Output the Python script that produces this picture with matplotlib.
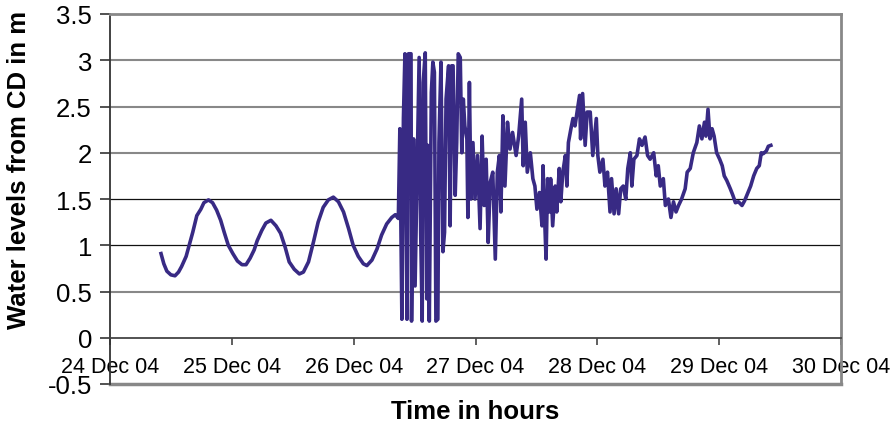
import matplotlib
matplotlib.use('Agg')
import matplotlib.pyplot as plt
import matplotlib.dates as mdates
import numpy as np

# hours after 24 Dec 2004 00:00, water level from CD (m)
hours_before = [10.05, 10.6, 11.2, 12.0, 12.8, 13.5, 14.1, 15.0, 15.6, 16.3, 17.1, 17.9,
                18.5, 19.4, 20.2, 21.0, 21.8, 22.5, 23.3, 24.2, 25.1, 26.0, 26.8, 27.6,
                28.4, 29.0, 29.9, 30.7, 31.7, 32.7, 33.6, 34.5, 35.3, 36.3, 37.3, 38.1,
                39.1, 40.1, 41.0, 42.0, 43.0, 44.0, 45.0, 46.0, 47.0, 47.9, 48.9, 49.9,
                50.6, 51.6, 52.6, 53.5, 54.5, 55.5, 56.2, 56.8]
level_before = [0.91, 0.80, 0.72, 0.68, 0.67, 0.71, 0.77, 0.88, 1.00, 1.14, 1.32, 1.39,
                1.46, 1.49, 1.46, 1.38, 1.27, 1.14, 1.00, 0.91, 0.83, 0.79, 0.79, 0.86,
                0.95, 1.05, 1.16, 1.24, 1.27, 1.21, 1.13, 0.98, 0.82, 0.74, 0.69, 0.71,
                0.82, 1.04, 1.25, 1.41, 1.49, 1.52, 1.47, 1.36, 1.18, 1.00, 0.88, 0.80,
                0.78, 0.84, 0.96, 1.11, 1.23, 1.30, 1.33, 1.29]

hours_tsunami = [57.1, 57.5, 57.8, 58.1, 58.5, 58.8, 59.3, 59.4, 59.8, 60.1, 60.9, 61.2,
                 61.5, 61.7, 62.1, 62.4, 62.6, 62.9, 63.3, 63.6, 63.9, 64.2, 64.6, 64.8,
                 65.2, 65.6, 65.9, 66.2, 66.7, 67.0, 67.3, 67.6, 68.0, 68.3, 68.6, 69.0,
                 69.3, 69.6, 69.9, 70.3, 70.5, 70.8, 71.1, 71.5, 71.9, 72.4, 72.9, 73.3,
                 73.7, 74.1, 74.5, 74.9, 75.4, 75.9, 76.3, 76.7, 77.0, 77.4, 77.8, 78.3,
                 78.8, 79.3, 80.0, 80.5, 81.1, 81.4, 81.8, 82.2, 82.8, 83.3, 83.7, 84.1,
                 84.6, 85.1, 85.3, 85.6, 85.9, 86.2, 86.6, 86.8, 87.2, 87.7, 88.0, 88.5,
                 88.8, 89.2, 89.7, 90.0, 90.3, 90.8, 91.2, 91.6, 92.1, 92.5, 92.7, 93.1,
                 93.6, 94.0, 94.6, 95.1, 95.8, 96.1]
level_tsunami = [2.26, 0.20, 2.37, 3.07, 0.20, 3.07, 3.07, 0.18, 2.15, 0.56, 3.03, 1.14,
                 0.18, 2.76, 3.08, 0.42, 2.08, 0.18, 2.65, 2.98, 2.87, 0.18, 0.20, 2.11,
                 2.98, 0.93, 1.14, 2.58, 2.94, 1.21, 2.94, 2.94, 1.54, 2.11, 3.07, 3.03,
                 2.00, 2.58, 2.29, 2.15, 1.30, 2.76, 1.50, 2.11, 1.50, 1.97, 1.18, 2.18,
                 1.43, 1.93, 1.03, 1.68, 1.79, 0.85, 1.79, 1.97, 1.36, 2.40, 1.64, 2.33,
                 2.04, 2.22, 1.97, 2.18, 2.58, 1.86, 2.33, 1.79, 2.00, 1.72, 1.64, 1.39,
                 1.57, 1.21, 1.86, 1.32, 0.85, 1.72, 1.36, 1.72, 1.21, 1.64, 1.36, 1.83,
                 1.47, 1.79, 1.97, 1.64, 2.11, 2.26, 2.37, 2.29, 2.47, 2.62, 2.15, 2.64,
                 2.08, 2.44, 2.44, 1.97, 2.37, 1.97]

hours_after = [96.5, 97.1, 97.5, 98.0, 98.5, 98.8, 99.3, 99.7, 100.2, 100.6, 101.1, 101.6,
               102.0, 102.5, 102.8, 103.2, 103.8, 104.3, 104.8, 105.4, 105.9, 106.4, 107.1,
               107.6, 108.0, 108.4, 109.0, 109.4, 110.0, 110.5, 111.0, 111.5, 112.0, 112.6,
               113.3, 113.7, 114.3, 114.9, 115.6, 116.1, 116.6, 117.1, 117.4, 117.8, 118.2,
               118.6, 119.0, 119.5, 120.1, 120.6, 121.0, 121.5, 122.2, 122.7, 123.2, 123.8,
               124.5, 125.0, 125.6, 126.2, 126.8, 127.4, 127.9, 128.3, 128.7, 129.3, 129.7,
               130.2]
level_after = [1.79, 1.93, 1.64, 1.79, 1.36, 1.72, 1.34, 1.61, 1.34, 1.61, 1.64, 1.50,
               1.83, 2.00, 1.64, 1.93, 1.97, 2.15, 2.08, 2.17, 1.97, 1.93, 2.00,
               1.75, 1.86, 1.64, 1.72, 1.43, 1.50, 1.30, 1.47, 1.36, 1.43, 1.50,
               1.61, 1.79, 1.83, 2.00, 2.11, 2.29, 2.15, 2.33, 2.18, 2.47, 2.15,
               2.26, 2.18, 2.00, 1.93, 1.86, 1.75, 1.70, 1.61, 1.54, 1.46, 1.47,
               1.43, 1.48, 1.56, 1.64, 1.75, 1.83, 1.86, 2.00, 1.99, 2.02, 2.07,
               2.08]

hours = np.array(hours_before + hours_tsunami + hours_after)
levels = np.array(level_before + level_tsunami + level_after)

start = np.datetime64('2004-12-24T00:00')
times = start + (hours * 60).astype(int).astype('timedelta64[m]')

plt.rcParams['font.family'] = ['Liberation Sans', 'DejaVu Sans']

fig = plt.figure(figsize=(8.95, 4.27), dpi=100)
ax = fig.add_axes([110 / 895, 42 / 427, 731 / 895, 370 / 427])

# grid lines (two of them look darker in the original)
for yv in [0.5, 2.0, 2.5, 3.0]:
    ax.axhline(yv, color='#888888', lw=1.5, zorder=1)
for yv in [1.0, 1.5]:
    ax.axhline(yv, color='#111111', lw=0.9, zorder=1)

ax.plot(times, levels, color='#382A84', lw=2.6, zorder=3)

ax.set_xlim(np.datetime64('2004-12-24'), np.datetime64('2004-12-30'))
ax.set_ylim(-0.5, 3.5)
ax.set_yticks(np.arange(-0.5, 3.51, 0.5))
ax.set_yticklabels(['-0.5', '0', '0.5', '1', '1.5', '2', '2.5', '3', '3.5'])

ax.xaxis.set_major_locator(mdates.DayLocator())
ax.xaxis.set_major_formatter(mdates.DateFormatter('%d %b %y'))

ax.spines['bottom'].set_position(('data', 0))
ax.spines['bottom'].set_color('#444444')
ax.spines['bottom'].set_linewidth(1.3)
ax.spines['left'].set_color('#333333')
ax.spines['left'].set_linewidth(1.3)
for s in ['top', 'right']:
    ax.spines[s].set_color('#888888')
    ax.spines[s].set_linewidth(2)
ax.axhline(-0.5, color='#888888', lw=2.5, zorder=2, clip_on=False)

ax.tick_params(axis='y', direction='out', length=7, width=1.2, color='#333333',
               labelsize=18.5, pad=6)
ax.tick_params(axis='x', direction='out', length=5, width=1.2, color='#444444',
               labelsize=15.5, pad=8)

ax.set_xlabel('Time in hours', fontsize=18.5, fontweight='bold')
ax.xaxis.set_label_coords(0.5, -0.072)
ax.xaxis.label.set_va('center')
ax.set_ylabel('Water levels from CD in m', fontsize=18.5, fontweight='bold')
ax.yaxis.set_label_coords(-0.124, 0.58)
ax.yaxis.label.set_va('center')

fig.savefig('out.png', dpi=100)
